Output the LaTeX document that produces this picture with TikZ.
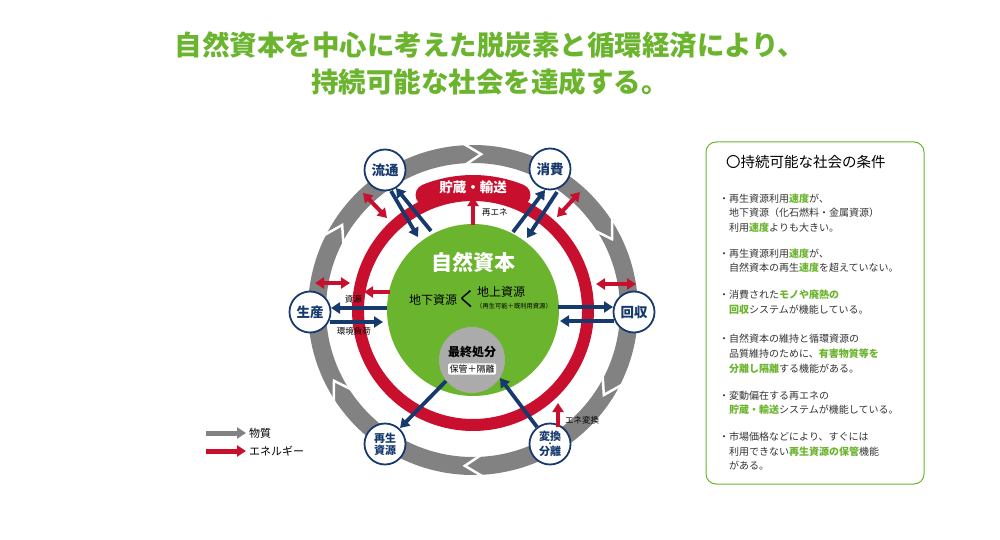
\documentclass[tikz,border=0pt]{standalone}
\usepackage{fontspec}
\setmainfont{Noto Sans CJK JP}
\usetikzlibrary{arrows.meta}

\definecolor{leafgreen}{HTML}{6BB42E}
\definecolor{ringred}{HTML}{C8102E}
\definecolor{flownavy}{HTML}{173A6E}
\definecolor{flowgray}{HTML}{828282}
\definecolor{dumpgray}{HTML}{ABABAB}

\newcommand{\kw}[1]{\textcolor{leafgreen}{\textbf{#1}}}

\begin{document}
\begin{tikzpicture}[x=1pt,y=-1pt,
    >={Triangle[length=9pt,width=11pt]},
    stagenode/.style={circle, draw=flownavy, line width=1.8pt, fill=white, minimum size=41pt, inner sep=0pt,
        text=flownavy, font=\fontsize{13.5}{14}\selectfont\bfseries, align=center},
    matflow/.style={->, flownavy, line width=3.8pt},
    enflow/.style={->, ringred, line width=4pt},
    enboth/.style={<->, ringred, line width=4pt},
    smalltag/.style={text=black, font=\fontsize{8.5}{9}\selectfont, inner sep=1pt},
    cond/.style={anchor=west, font=\fontsize{10}{12}\selectfont, inner sep=0pt, text=black!80},
    chevron/.style={white, line width=2.5pt}]
    \useasboundingbox (0,0) rectangle (1000,540);

    % Title
    \node[font=\fontsize{27.5}{30}\selectfont\bfseries, text=leafgreen] (title1) at (490,45) {自然資本を中心に考えた脱炭素と循環経済により、};
    \node[font=\fontsize{27.5}{30}\selectfont\bfseries, text=leafgreen] (title2) at (490,82) {持続可能な社会を達成する。};

    % Rings round the natural capital
    \begin{scope}[shift={(473,310)}]
        \draw[flowgray, line width=18pt] (0,0) circle (156);
        \draw[chevron] (-154:168) -- (-147:156) -- (-154:144);
        \draw[chevron] (-94:168) -- (-87:156) -- (-94:144);
        \draw[chevron] (-34:168) -- (-27:156) -- (-34:144);
        \draw[chevron] (26:168) -- (33:156) -- (26:144);
        \draw[chevron] (86:168) -- (93:156) -- (86:144);
        \draw[chevron] (146:168) -- (153:156) -- (146:144);
        \draw[ringred, line width=12pt] (0,0) circle (115);
        \draw[ringred, line width=22pt, line cap=round] (-112:124) arc[start angle=-112, end angle=-68, radius=124];
    \end{scope}
    \node[text=white, font=\fontsize{13.5}{14}\selectfont\bfseries] (store) at (473,187) {貯蔵・輸送};

    % Natural capital and final disposal
    \node[circle, fill=leafgreen, minimum size=172pt, inner sep=0pt] (shizen) at (473,310) {};
    \node[text=white, font=\fontsize{21}{22}\selectfont\bfseries] (shizenlabel) at (473,262) {自然資本};
    \node[font=\fontsize{12}{13}\selectfont] (chika) at (433,300) {地下資源};
    \node[font=\fontsize{20}{20}\selectfont] (lessthan) at (467,299) {く};
    \node[font=\fontsize{12}{13}\selectfont, inner sep=0pt] (chijo) at (501,292) {地上資源};
    \node[font=\fontsize{6.3}{7}\selectfont, inner sep=0pt] (chijosub) at (514,306.5) {（再生可能＋既利用資源）};
    \node[circle, fill=dumpgray, minimum size=66pt, inner sep=0pt] (saishu) at (472,360) {};
    \node[font=\fontsize{12}{13}\selectfont\bfseries] (saishulabel) at (472,352) {最終処分};
    \node[fill=white, rounded corners=2pt, inner sep=1.5pt, font=\fontsize{9}{10}\selectfont] (hokan) at (472,369) {保管＋隔離};

    % Stages on the material ring
    \node[stagenode] (ryutsu) at (385,170) {流通};
    \node[stagenode] (shohi) at (550,169) {消費};
    \node[stagenode] (seisan) at (310,312) {生産};
    \node[stagenode] (kaishu) at (634,312) {回収};
    \node[stagenode, font=\fontsize{11}{12}\selectfont\bfseries] (saisei) at (385,444) {再生\\資源};
    \node[stagenode, font=\fontsize{11}{15}\selectfont\bfseries] (henkan) at (550,444) {変換\\分離};
    \node[text=flownavy, font=\fontsize{7}{7}\selectfont\bfseries, inner sep=0pt] (henkandot) at (550,445) {・};

    % Material flows
    \coordinate (ryutsuOut) at (391,191);
    \coordinate (ryutsuIn) at (418,237);
    \coordinate (ryutsuBack) at (431,231);
    \coordinate (ryutsuTip) at (396,188);
    \draw[matflow] (ryutsuOut) -- (ryutsuIn);
    \draw[matflow] (ryutsuBack) -- (ryutsuTip);
    \coordinate (shohiFrom) at (513,232);
    \coordinate (shohiTip) at (545,190);
    \coordinate (shohiOut) at (557,192);
    \coordinate (shohiIn) at (527,238);
    \draw[matflow] (shohiFrom) -- (shohiTip);
    \draw[matflow] (shohiOut) -- (shohiIn);
    \coordinate (seisanFrom) at (387,308);
    \coordinate (seisanTip) at (331,308);
    \coordinate (seisanOut) at (330,322);
    \coordinate (seisanIn) at (383,322);
    \draw[matflow] (seisanFrom) -- (seisanTip) node[pos=0.6, above=2pt, smalltag] (shigen) {資源};
    \draw[matflow] (seisanOut) -- (seisanIn) node[pos=0.45, below=2pt, smalltag] (fuka) {環境負荷};
    \coordinate (kaishuFrom) at (558,307);
    \coordinate (kaishuTip) at (613,307);
    \coordinate (kaishuOut) at (614,321);
    \coordinate (kaishuIn) at (560,321);
    \draw[matflow] (kaishuFrom) -- (kaishuTip);
    \draw[matflow] (kaishuOut) -- (kaishuIn);
    \coordinate (saishuOut) at (446,381);
    \coordinate (saiseiTip) at (400,428);
    \coordinate (henkanOut) at (537,427);
    \coordinate (saishuTip) at (500,378);
    \draw[matflow] (saishuOut) -- (saiseiTip);
    \draw[matflow] (henkanOut) -- (saishuTip);

    % Energy flows
    \coordinate (leftGray) at (315,283);
    \coordinate (leftRed) at (350,283);
    \coordinate (rightRed) at (596,284);
    \coordinate (rightGray) at (636,284);
    \coordinate (ulGray) at (363,193);
    \coordinate (ulRed) at (387,218);
    \coordinate (urGray) at (580,192);
    \coordinate (urRed) at (557,217);
    \draw[enboth] (leftGray) -- (leftRed);
    \draw[enboth] (rightRed) -- (rightGray);
    \draw[enboth] (ulGray) -- (ulRed);
    \draw[enboth] (urGray) -- (urRed);
    \coordinate (greenLeft) at (390,292);
    \coordinate (redLeft) at (364,292);
    \draw[enflow] (greenLeft) -- (redLeft);
    \coordinate (greenTop) at (473,225);
    \coordinate (redTop) at (473,197);
    \draw[enflow] (greenTop) -- (redTop) node[pos=0.45, right=6pt, smalltag] (saiene) {再エネ};
    \coordinate (grayLow) at (558,427);
    \coordinate (redLow) at (558,403);
    \draw[enflow] (grayLow) -- (redLow) node[pos=0.3, right=4pt, smalltag] (henene) {エネ変換};

    % Legend
    \coordinate (matA) at (206,433);
    \coordinate (matB) at (246,433);
    \coordinate (enA) at (206,451);
    \coordinate (enB) at (246,451);
    \draw[->, flowgray, line width=5pt] (matA) -- (matB);
    \draw[->, ringred, line width=5pt] (enA) -- (enB);
    \node[anchor=west, font=\fontsize{11}{12}\selectfont, inner sep=0pt] (matlabel) at (249,433) {物質};
    \node[anchor=west, font=\fontsize{11}{12}\selectfont, inner sep=0pt] (enlabel) at (249,451) {エネルギー};

    % Conditions box
    \node[draw=leafgreen, line width=1pt, rounded corners=10pt, minimum width=218pt, minimum height=342pt] (condbox) at (815,313) {};
    \node[anchor=west, font=\fontsize{14.5}{15}\selectfont, inner sep=0pt] (condtitle) at (726,162) {〇持続可能な社会の条件};
    \node[cond] (c1a) at (719,199) {・再生資源利用\kw{速度}が、};
    \node[cond] (c1b) at (729,213) {地下資源（化石燃料・金属資源）};
    \node[cond] (c1c) at (729,228) {利用\kw{速度}よりも大きい。};
    \node[cond] (c2a) at (719,254) {・再生資源利用\kw{速度}が、};
    \node[cond] (c2b) at (729,268) {自然資本の再生\kw{速度}を超えていない。};
    \node[cond] (c3a) at (719,295) {・消費された\kw{モノや廃熱の}};
    \node[cond] (c3b) at (729,310) {\kw{回収}システムが機能している。};
    \node[cond] (c4a) at (719,339) {・自然資本の維持と循環資源の};
    \node[cond] (c4b) at (729,354) {品質維持のために、\kw{有害物質等を}};
    \node[cond] (c4c) at (729,369) {\kw{分離し隔離}する機能がある。};
    \node[cond] (c5a) at (719,396) {・変動偏在する再エネの};
    \node[cond] (c5b) at (729,410) {\kw{貯蔵・輸送}システムが機能している。};
    \node[cond] (c6a) at (719,437) {・市場価格などにより、すぐには};
    \node[cond] (c6b) at (729,452) {利用できない\kw{再生資源の保管}機能};
    \node[cond] (c6c) at (729,466) {がある。};
\end{tikzpicture}
\end{document}
